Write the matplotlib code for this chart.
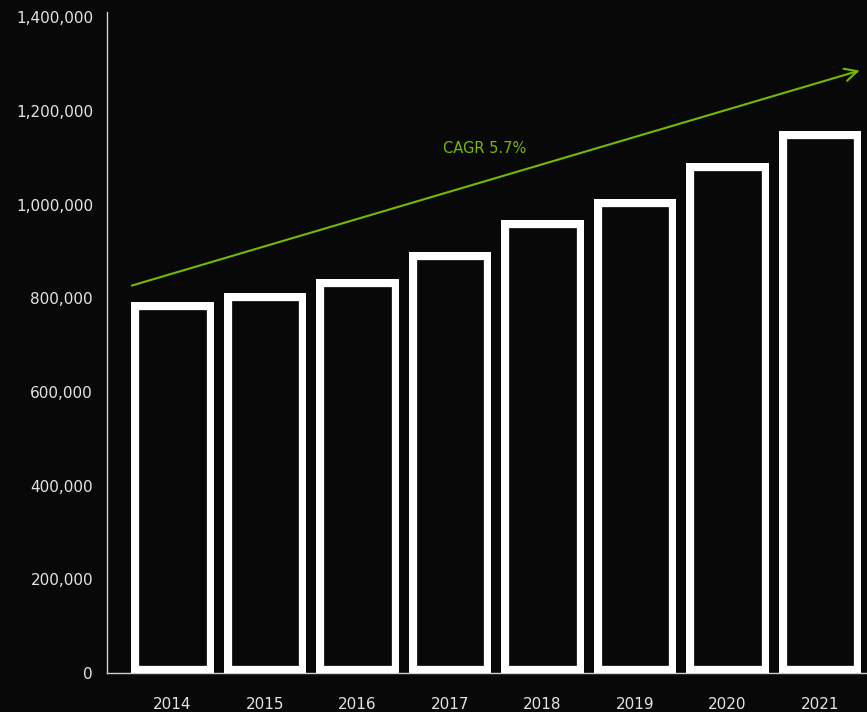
import matplotlib.pyplot as plt
from matplotlib.ticker import FuncFormatter

# Data
years = ['2014', '2015', '2016', '2017', '2018', '2019', '2020', '2021']
values = [791000, 811000, 842000, 899000, 966000, 1011000, 1088000, 1158000]
cagr_label = 'CAGR 5.7%'
arrow_start = (-0.44, 827000)
arrow_end = (7.43, 1286000)

bg = '#080808'
green = '#76b900'
text_col = '#e4e4e4'

fig = plt.figure(figsize=(8.67, 7.12), dpi=100, facecolor=bg)
ax = fig.add_axes([107 / 867, 1 - 673 / 712, 1 - 107 / 867, (673 - 12) / 712])
ax.set_facecolor(bg)

x = range(len(years))
bars = ax.bar(x, values, width=0.89, color=bg, edgecolor='white', linewidth=11, zorder=3)
# clip each bar to itself so the stroke sits inside the bar
for b in bars:
    b.set_clip_path(b)

ax.set_xlim(-0.708, 7.51)
ax.set_ylim(0, 1411000)
ax.set_yticks(range(0, 1400001, 200000))
ax.yaxis.set_major_formatter(FuncFormatter(lambda v, p: f'{int(v):,}'))
ax.set_xticks(list(x))
ax.set_xticklabels(years)

ax.tick_params(axis='both', length=0, colors=text_col, labelsize=11)
ax.tick_params(axis='x', pad=17)
ax.tick_params(axis='y', pad=10)

for side in ['top', 'right']:
    ax.spines[side].set_visible(False)
for side in ['left', 'bottom']:
    ax.spines[side].set_color('#d0d0d0')
    ax.spines[side].set_linewidth(1)
    ax.spines[side].set_zorder(2)

# growth arrow
ax.annotate('', xy=arrow_end, xytext=arrow_start,
            arrowprops=dict(arrowstyle='->,head_length=0.9,head_width=0.45',
                            color=green, lw=1.5, shrinkA=0, shrinkB=0),
            zorder=4)
ax.text(3.38, 1120000, cagr_label, color=green, fontsize=10.5, ha='center', va='center')

fig.savefig('out.png', dpi=100, facecolor=bg)
